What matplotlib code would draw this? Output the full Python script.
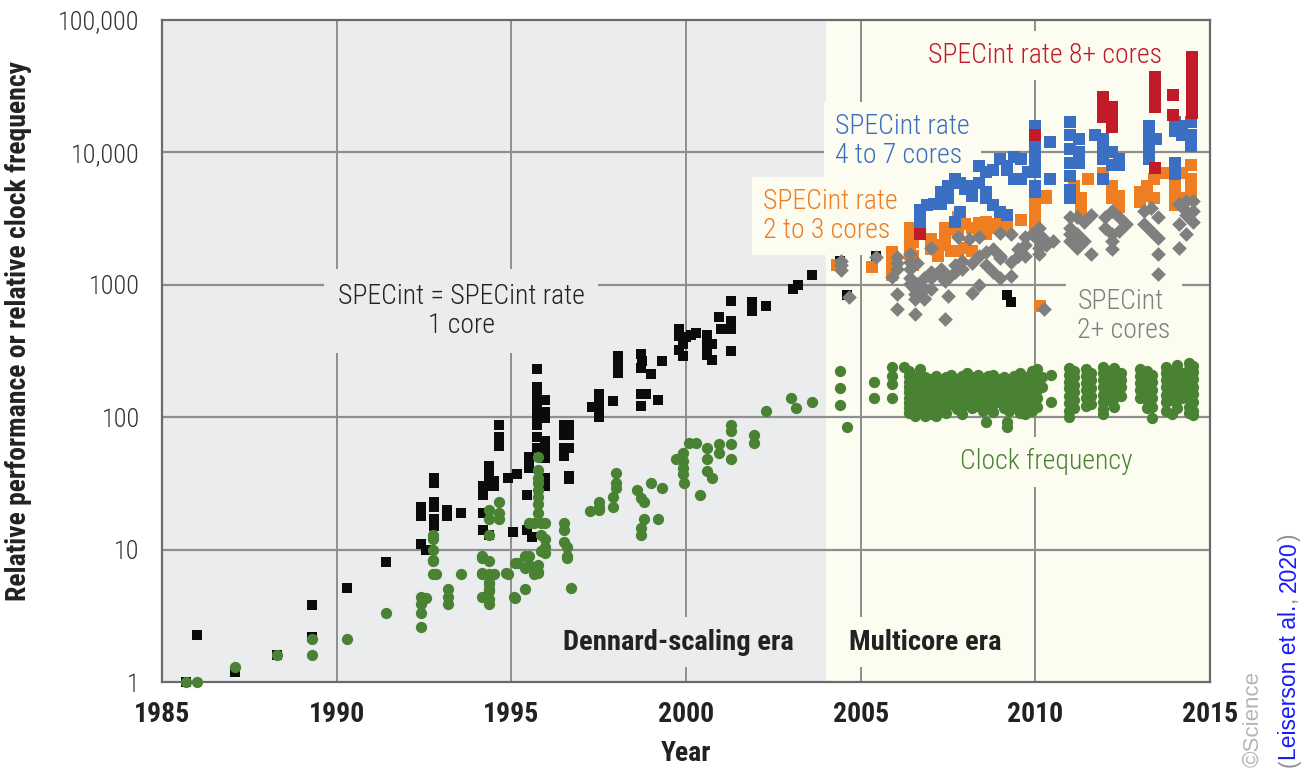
import matplotlib
matplotlib.use("Agg")
import matplotlib.pyplot as plt
import numpy as np

# ---------------------------------------------------------------- data
# Each entry: (year, [values at that year])
specint_1core = [
    (1985.7, [1.0]), (1986.0, [2.25]), (1987.1, [1.2]), (1988.3, [1.6]),
    (1989.3, [3.8, 2.2]), (1990.3, [5.1]), (1991.4, [8.0]),
    (1992.4, [21, 18, 11]), (1992.55, [10]), (1992.8, [35, 32, 23, 21, 17, 15]),
    (1993.15, [20, 18]), (1993.55, [19]),
    (1994.2, [19, 14, 30, 26]), (1994.35, [43, 37, 33, 30, 13]), (1994.5, [30, 33]),
    (1994.64, [87, 71, 61]), (1994.9, [35]), (1995.05, [13.5]), (1995.15, [37]),
    (1995.45, [26, 14]), (1995.5, [50, 45, 41]), (1995.6, [12.5]),
    (1995.73, [230, 170, 150, 135, 120, 107, 94, 87, 71, 59]),
    (1995.95, [135, 110, 98, 66, 58, 49, 35, 30]),
    (1996.5, [87, 74, 59, 51]), (1996.65, [87, 74, 59, 36, 34]),
    (1997.3, [120]), (1997.5, [150, 130, 112, 100]), (1997.9, [132]),
    (1998.05, [290, 245, 214]), (1998.7, [300, 234, 150, 122]), (1998.75, [265]),
    (1998.85, [150]), (1999.0, [212]), (1999.2, [135]), (1999.3, [268]),
    (1999.8, [460, 410, 320]), (1999.9, [360, 290]), (2000.0, [400]),
    (2000.15, [420]), (2000.3, [430]), (2000.6, [420, 360, 330, 295]),
    (2000.75, [360, 270]), (2000.95, [575]), (2001.0, [460]),
    (2001.3, [760, 535, 460, 316]), (2001.9, [740, 630]), (2002.3, [690]),
    (2003.05, [930]), (2003.2, [1000]), (2003.6, [1180]),
    (2004.4, [1520]), (2004.6, [840]), (2005.43, [1640]),
    (2009.2, [840]), (2009.3, [745]),
]

clock_freq = [
    (1985.7, [1.0]), (1986.0, [1.0]), (1987.1, [1.3]), (1988.3, [1.6]),
    (1989.3, [2.1, 1.6]), (1990.3, [2.1]), (1991.4, [3.3]),
    (1992.4, [2.6, 3.3, 3.9, 4.4]), (1992.55, [4.3]),
    (1992.75, [6.5, 8.2, 8.3, 10, 12, 13]), (1992.85, [6.5]),
    (1993.2, [3.9, 4.4, 5.0]), (1993.55, [6.5]),
    (1994.15, [8.9, 6.5, 8.7, 6.6, 4.4]),
    (1994.35, [8.2, 6.5, 5.5, 5.0, 4.2, 3.9, 20, 17, 13, 5.7, 4.9]),
    (1994.5, [6.5]), (1994.64, [23, 19, 17]), (1994.86, [6.6]), (1994.9, [6.5]),
    (1995.07, [4.4]), (1995.1, [4.3, 7.9]), (1995.2, [7.9]),
    (1995.4, [8.9, 7.2, 5.0]), (1995.5, [16, 8.9, 7.6]), (1995.65, [6.5, 16]),
    (1995.75, [50, 40, 35, 32, 28, 25, 22, 19, 7.7, 6.8, 6.6]),
    (1995.85, [16, 13, 9.8]), (1995.95, [16, 12, 10.5, 9.5]),
    (1996.5, [16, 14, 11.5]), (1996.6, [8.9, 10.5, 8.7]), (1996.7, [5.1]),
    (1997.24, [19.4]), (1997.5, [23, 21, 20]), (1997.9, [21, 25]),
    (1998.0, [38, 32, 29]), (1998.6, [28]), (1998.7, [24.5, 14.5, 13]),
    (1998.8, [23, 17]), (1999.0, [32]), (1999.2, [17]), (1999.3, [29]),
    (1999.7, [48]), (1999.9, [54, 47, 41, 37]), (1999.95, [32]),
    (2000.1, [64]), (2000.3, [64]), (2000.4, [26]), (2000.6, [59, 48, 39]),
    (2000.75, [35]), (2000.95, [63, 54]), (2001.3, [88, 78, 63, 48]),
    (2001.95, [74, 64]), (2002.3, [112]), (2003.0, [140]), (2003.15, [118]),
    (2003.6, [131]),
    (2004.4, [225, 166, 123]), (2004.6, [85]),
    (2005.38, [184, 140]), (2005.9, [240, 205, 178, 140]), (2006.24, [240]),
    (2006.38, [225, 205, 185, 170, 155, 140, 128, 118, 108]),
    (2006.55, [200, 180, 165, 150, 135, 120, 110, 103]),
    (2006.7, [230, 190, 170, 150, 130, 115]),
    (2006.85, [200, 180, 160, 140, 125, 110, 103]),
    (2007.0, [195, 175, 155, 135, 120, 106]),
    (2007.15, [205, 185, 160, 140, 118, 103]),
    (2007.3, [190, 170, 150, 130, 115]),
    (2007.45, [200, 180, 160, 140, 122, 108]),
    (2007.6, [210, 185, 165, 145, 125]),
    (2007.75, [195, 175, 150, 132, 115]),
    (2007.9, [205, 180, 160, 140, 120, 106]),
    (2008.05, [215, 190, 165, 145, 128]),
    (2008.2, [200, 175, 155, 135, 118]),
    (2008.35, [210, 185, 160, 140, 122]),
    (2008.5, [195, 170, 150, 130, 112]), (2008.6, [92]),
    (2008.65, [205, 180, 158, 138, 120]),
    (2008.8, [210, 185, 165, 145, 125, 110]),
    (2008.95, [195, 172, 150, 130]),
    (2009.1, [200, 178, 155, 135, 118]), (2009.2, [92, 84]),
    (2009.25, [190, 168, 148, 128, 112]),
    (2009.4, [205, 182, 160, 140, 122]),
    (2009.55, [215, 190, 165, 145, 125, 108]),
    (2009.7, [200, 170, 145, 120, 105]),
    (2009.9, [225, 200, 175, 150, 130, 112]),
    (2010.05, [230, 210, 185, 160, 140, 120]),
    (2010.2, [200, 170]), (2010.45, [210, 130]),
    (2010.95, [235, 210, 185, 165, 145, 128, 112, 101]),
    (2011.1, [225, 200, 175, 155, 135, 118]),
    (2011.45, [230, 205, 180, 160, 140, 122]),
    (2011.6, [215, 190, 165, 145, 125]),
    (2011.95, [240, 215, 190, 168, 148, 130, 115, 105]),
    (2012.1, [225, 200, 178, 155, 135]),
    (2012.25, [235, 210, 185, 160, 140, 120]),
    (2012.45, [215, 190, 168, 145]),
    (2013.0, [230, 205, 180, 160, 140]),
    (2013.2, [225, 200, 175, 155, 135, 118]),
    (2013.35, [210, 185, 160, 140, 120, 98]),
    (2013.75, [240, 215, 190, 168, 148, 130, 112]),
    (2013.9, [225, 200, 178, 155, 135, 105]),
    (2014.05, [250, 225, 200, 178, 155, 135, 118]),
    (2014.2, [215, 190, 165, 140]),
    (2014.4, [255, 230, 205, 180, 160, 140, 120, 108]),
    (2014.5, [245, 220, 195, 170, 150, 130, 112, 104]),
]

specint_2plus = [
    (2004.43, [1520, 1400, 1290]), (2004.67, [810]), (2005.43, [1620]),
    (2005.9, [1150]), (2006.05, [1620, 1450, 1320, 850, 660]),
    (2006.4, [1700, 1480, 1320, 1120, 1020]), (2006.55, [930, 850, 780, 600]),
    (2006.6, [1450, 1020, 930, 850]), (2006.8, [780, 800, 930, 1120]),
    (2007.0, [1900, 1120, 930, 1260]), (2007.3, [1320, 1170]),
    (2007.4, [1070, 550]), (2007.5, [1120, 1170, 830]), (2007.7, [1410, 1260]),
    (2007.8, [2300]), (2007.9, [1500, 1320]), (2008.1, [2200]),
    (2008.2, [1470, 870]), (2008.4, [1660, 1000, 2300]), (2008.6, [1780, 1410]),
    (2008.8, [1860, 1260]), (2009.0, [1660, 1120, 1580, 2450]),
    (2009.3, [1480, 1170, 2400]), (2009.5, [1860, 1660]),
    (2009.7, [2000, 1660, 2300]), (2009.9, [2400]),
    (2010.1, [2400, 2700, 2140, 1900, 1700]), (2010.24, [660]),
    (2010.3, [2000, 2140]), (2010.5, [2140]),
    (2011.0, [3240, 2700, 2140, 2400]), (2011.2, [3240, 2400, 2140, 1910]),
    (2011.4, [3000, 2140]), (2011.6, [3390, 1700]),
    (2012.0, [3240, 2700]), (2012.2, [3630, 2400, 2140, 1860]),
    (2012.4, [3240, 2570]), (2012.6, [2880]),
    (2013.1, [3630, 2880]), (2013.3, [3800, 2570]),
    (2013.5, [3240, 2240, 1700, 1200]),
    (2014.1, [4070, 2880, 1900]), (2014.3, [4270, 3390, 3630, 2400]),
    (2014.5, [4270, 3630, 3000]),
]

rate_2to3 = [
    (2004.33, [1400]), (2005.33, [1360]), (2005.9, [1770, 1570, 1360, 1180]),
    (2006.4, [2700, 2350, 2000, 1700]), (2006.5, [2500, 2100, 1660, 1400]),
    (2006.7, [2650, 2500]), (2007.0, [2230, 1870]), (2007.2, [2000, 1660]),
    (2007.4, [2700, 2240, 2000]), (2007.6, [2600, 1800]),
    (2007.8, [3240, 2890, 2570, 1800]), (2008.0, [2890, 1900]),
    (2008.2, [2700, 1800]), (2008.4, [2950, 2600]), (2008.6, [3000, 2400]),
    (2008.8, [2900, 2700]), (2009.0, [3000]), (2009.2, [2800]), (2009.6, [3100]),
    (2010.0, [5600, 4500, 4000, 3500, 2900]), (2010.14, [690]),
    (2010.3, [4700, 4500]),
    (2011.1, [5600, 5000, 4500]), (2011.3, [4500, 4000, 3700]), (2011.5, [6300]),
    (2011.95, [7000]), (2012.2, [5600, 5000, 4500]), (2012.4, [4700, 3900]),
    (2013.0, [5000, 4200]), (2013.2, [5600, 4700]), (2013.4, [6300, 4500]),
    (2013.7, [7000]), (2014.0, [8000, 5600, 4700, 4000]), (2014.2, [7000, 4500]),
    (2014.45, [8000, 6300, 5600, 5000]),
]

rate_4to7 = [
    (2006.7, [3700, 3300, 2950]), (2006.9, [4000]), (2007.1, [4100]),
    (2007.3, [5000, 4100]), (2007.5, [5600, 4500]), (2007.7, [6300, 3000]),
    (2007.85, [5900, 3550]), (2008.0, [5250]), (2008.2, [5600, 4700]),
    (2008.4, [7900, 5900]), (2008.6, [7100, 5000, 4500]), (2008.8, [7400, 4000]),
    (2009.0, [8900, 3550]), (2009.2, [7900, 7400, 3390]), (2009.4, [9300, 6300]),
    (2009.6, [8900, 6300]), (2009.8, [7100]),
    (2010.0, [15800, 12600, 10700, 10000, 9300, 8000, 7100, 5600, 5000]),
    (2010.43, [12000, 6300]),
    (2011.0, [17000, 13500, 10700, 8300, 6600, 5200, 4500]),
    (2011.25, [12600, 10000, 8300]), (2011.7, [13500]),
    (2011.95, [12600, 10700, 8900, 6300]), (2012.2, [10000, 8000]),
    (2012.4, [8900, 8000]),
    (2013.25, [15800, 13500, 11200, 10000, 8900]), (2013.45, [12600]),
    (2014.0, [17000, 14500, 8300, 6900]), (2014.2, [15800, 13500]),
    (2014.45, [17000, 13500, 11200]),
]

rate_8plus = [
    (2006.7, [2400]), (2010.0, [13500]),
    (2011.95, [26000, 22000, 18500]), (2012.2, [22000, 18500, 15500]),
    (2013.43, [37000, 31000, 26000, 22000, 7600]),
    (2013.95, [27000, 19000]),
    (2014.48, [53000, 45000, 38000, 32000, 27000, 23000, 20000]),
]

year_ticks = [1985, 1990, 1995, 2000, 2005, 2010, 2015]
value_ticks = [1, 10, 100, 1000, 10000, 100000]
value_tick_labels = ["1", "10", "100", "1000", "10,000", "100,000"]

# ---------------------------------------------------------------- style
GRAY_BG = "#ebeced"
YELLOW_BG = "#fdfcf0"
GRID = "#8e8e8e"
C_BLACK = "#0b0b0b"
C_GREEN = "#4a8234"
C_GRAY = "#7f7f7f"
C_ORANGE = "#ef7d22"
C_BLUE = "#3a6fc3"
C_RED = "#c11b2a"

NARROW = ["Roboto Condensed", "Roboto", "DejaVu Sans"]


def flatten(cols):
    xs, ys = [], []
    for yr, vals in cols:
        for v in vals:
            xs.append(yr)
            ys.append(v)
    return np.array(xs), np.array(ys)


fig = plt.figure(figsize=(13.08, 7.70), dpi=100)
ax = fig.add_axes([162 / 1308, 1 - 682 / 770, (1210 - 162) / 1308, (682 - 20) / 770])

ax.set_xlim(1985, 2015)
ax.set_yscale("log")
ax.set_ylim(1, 100000)

# era backgrounds
ax.axvspan(1985, 2004, color=GRAY_BG, zorder=0, lw=0)
ax.axvspan(2004, 2015, color=YELLOW_BG, zorder=0, lw=0)

# grid
for yr in year_ticks[1:-1]:
    ax.axvline(yr, color=GRID, lw=1.4, zorder=0.5)
for v in value_ticks[1:-1]:
    ax.axhline(v, color=GRID, lw=1.6, zorder=0.5)

ax.set_xticks(year_ticks)
ax.set_xticklabels([str(y) for y in year_ticks], fontfamily=NARROW,
                   fontweight="bold", fontsize=20, color="#222222")
ax.set_yticks(value_ticks)
ax.set_yticklabels(value_tick_labels, fontfamily=NARROW, fontsize=19,
                   fontweight="light", color="#333333")
ax.yaxis.set_minor_locator(matplotlib.ticker.NullLocator())
ax.tick_params(axis="both", length=0)
ax.tick_params(axis="x", pad=14)
ax.tick_params(axis="y", pad=16)

for sp in ax.spines.values():
    sp.set_color("#6a6a6a")
    sp.set_linewidth(1.6)

ax.set_xlabel("Year", fontfamily=NARROW, fontweight="bold", fontsize=20,
              color="#222222", labelpad=8)
ax.set_ylabel("Relative performance or relative clock frequency",
              fontfamily=NARROW, fontweight="bold", fontsize=20,
              color="#222222")
ax.yaxis.set_label_coords(-0.124, 0.53)

# series
series = [
    (specint_1core, C_BLACK, "s", 62, 3),
    (clock_freq, C_GREEN, "o", 66, 4),
    (rate_2to3, C_ORANGE, "s", 85, 5),
    (rate_4to7, C_BLUE, "s", 85, 6),
    (rate_8plus, C_RED, "s", 85, 7),
    (specint_2plus, C_GRAY, "D", 56, 8),
]
for cols, color, marker, size, z in series:
    x, y = flatten(cols)
    ax.scatter(x, y, s=size, c=color, marker=marker, linewidths=0,
               zorder=z, clip_on=False)


# labels with a background-coloured box that breaks the grid lines
def label(x, y, s, color, bg, ha="left", weight="light", size=20,
          padx=0.4):
    ax.text(x, y, s, color=color, ha=ha, va="center", fontfamily=NARROW,
            fontweight=weight, fontsize=size, linespacing=1.1, zorder=2,
            bbox=dict(boxstyle=f"square,pad={padx}", facecolor=bg,
                      edgecolor="none"))


label(2010.28, 54000, "SPECint rate 8+ cores", C_RED, YELLOW_BG, ha="center")
label(2004.27, 12200, "SPECint rate\n4 to 7 cores", C_BLUE, YELLOW_BG)
label(2002.2, 3300, "SPECint rate\n2 to 3 cores", C_ORANGE, YELLOW_BG)
label(1993.56, 630, "SPECint = SPECint rate\n1 core", "#222222", GRAY_BG,
      ha="center", padx=0.5)
label(2011.2, 580, "SPECint\n2+ cores", C_GRAY, YELLOW_BG)
label(2010.3, 46, "Clock frequency", C_GREEN, YELLOW_BG, ha="center")
label(1999.77, 2.0, "Dennard-scaling era", "#222222", GRAY_BG, ha="center",
      weight="bold", size=20.5)
label(2006.84, 2.0, "Multicore era", "#222222", YELLOW_BG, ha="center",
      weight="bold", size=20.5)

# credit lines along the right edge
fig.text(1253 / 1308, 3 / 770, "©Science", rotation=90, ha="center",
         va="bottom", fontsize=16, color="#b5b5b5",
         fontfamily=["Liberation Sans", "DejaVu Sans"])

renderer = fig.canvas.get_renderer()
pieces = [("(", "#909090"), ("Leiserson et al.", "#1a1aff"),
          (", ", "#909090"), ("2020", "#1a1aff"), (")", "#909090")]
x_base = 1296 / 1308
y_cur = 3
for txt, col in pieces:
    t = fig.text(x_base, y_cur / 770, txt, rotation=90, rotation_mode="anchor",
                 ha="left", va="baseline", fontsize=16.5, color=col,
                 fontfamily=["Liberation Sans", "DejaVu Sans"])
    bb = t.get_window_extent(renderer)
    y_cur = bb.y1

fig.savefig("out.png", dpi=100, facecolor="white")
